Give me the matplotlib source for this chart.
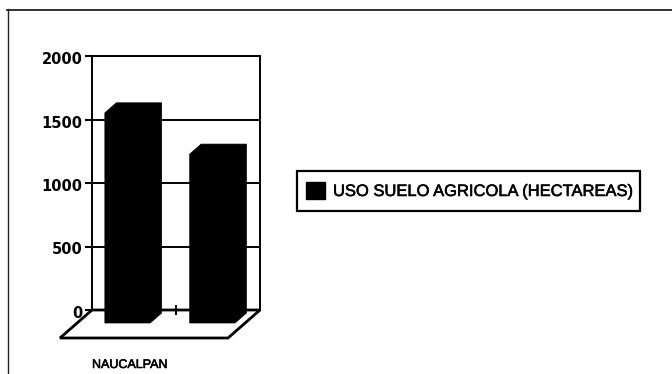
import matplotlib
matplotlib.use("Agg")
import matplotlib.pyplot as plt
import matplotlib.patheffects as pe
from matplotlib.patches import Polygon, Rectangle
from matplotlib.transforms import ScaledTranslation

# Datos
categoria = ["NAUCALPAN"]
valores = [1655, 1330]
y_ticks = [0, 500, 1000, 1500, 2000]
leyenda = "USO SUELO AGRICOLA (HECTAREAS)"

W, H = 672, 374
fig = plt.figure(figsize=(W / 100, H / 100), dpi=100, facecolor="white")

# marco de la hoja, en pixeles
fondo = fig.add_axes([0, 0, 1, 1])
fondo.set_xlim(0, W)
fondo.set_ylim(H, 0)
fondo.axis("off")
fondo.plot([7.5, 7.5], [9, H], color="#222222", lw=1.0)
fondo.plot([7, W], [9.5, 9.5], color="#222222", lw=1.3)

# pared del fondo: x 92-260, y 56-310
ax = fig.add_axes([92 / W, 1 - 310 / H, 168 / W, 254 / H])
ax.set_xlim(0, 2)
ax.set_ylim(0, 2000)
ax.patch.set_alpha(0)
ax.set_yticks(y_ticks)
ax.set_xticks([1])
ax.set_xticklabels([""])
ax.tick_params(axis="y", length=5, width=1.5, pad=2)
ax.tick_params(axis="x", length=7, width=1.5, direction="inout")
bajar = ScaledTranslation(0, -2 / 100, fig.dpi_scale_trans)
for lab in ax.get_yticklabels():
    lab.set_fontsize(10.5)
    lab.set_fontweight("bold")
    lab.set_fontfamily("DejaVu Sans")
    lab.set_transform(lab.get_transform() + bajar)
for s in ax.spines.values():
    s.set_linewidth(1.4)
ax.grid(axis="y", color="black", lw=1.4)
ax.set_axisbelow(True)

px_x = 2 / 168
px_y = 2000 / 254


def oblicuo(x, v, prof):
    # prof = pixeles hacia el frente
    return (x - prof * 32 / 28 * px_x, v - prof * px_y)


# piso
piso = [oblicuo(0, 0, 0), oblicuo(0, 0, 28), oblicuo(2, 0, 28), oblicuo(2, 0, 0)]
ax.add_patch(Polygon(piso, closed=True, fill=False, ec="black", lw=2, clip_on=False, zorder=3))

# barras
inicios = [0.33, 1.34]
ancho = 0.54
for x0, v in zip(inicios, valores):
    x1 = x0 + ancho
    forma = [
        oblicuo(x0, 0, 13), oblicuo(x0, v, 13), oblicuo(x0, v, 3), oblicuo(x1, v, 3),
        oblicuo(x1, 0, 3), oblicuo(x1, 0, 13),
    ]
    ax.add_patch(Polygon(forma, closed=True, fc="black", ec="black", lw=0.5, clip_on=False, zorder=4))

# etiqueta de categoria y leyenda, en pixeles
fondo.text(92, 365, categoria[0], fontsize=9, family="Liberation Sans", va="center", ha="left",
           color="black", path_effects=[pe.withStroke(linewidth=0.4, foreground="black")])

fondo.add_patch(Rectangle((297, 171), 343, 40, fill=False, ec="black", lw=1.6))
fondo.add_patch(Rectangle((306, 182), 19, 17, fc="black", ec="black"))
fondo.text(333, 191.5, leyenda, fontsize=11.9, family="Liberation Sans", va="center", ha="left",
           color="black", path_effects=[pe.withStroke(linewidth=0.4, foreground="black")])

fig.savefig("out.png", dpi=100)
